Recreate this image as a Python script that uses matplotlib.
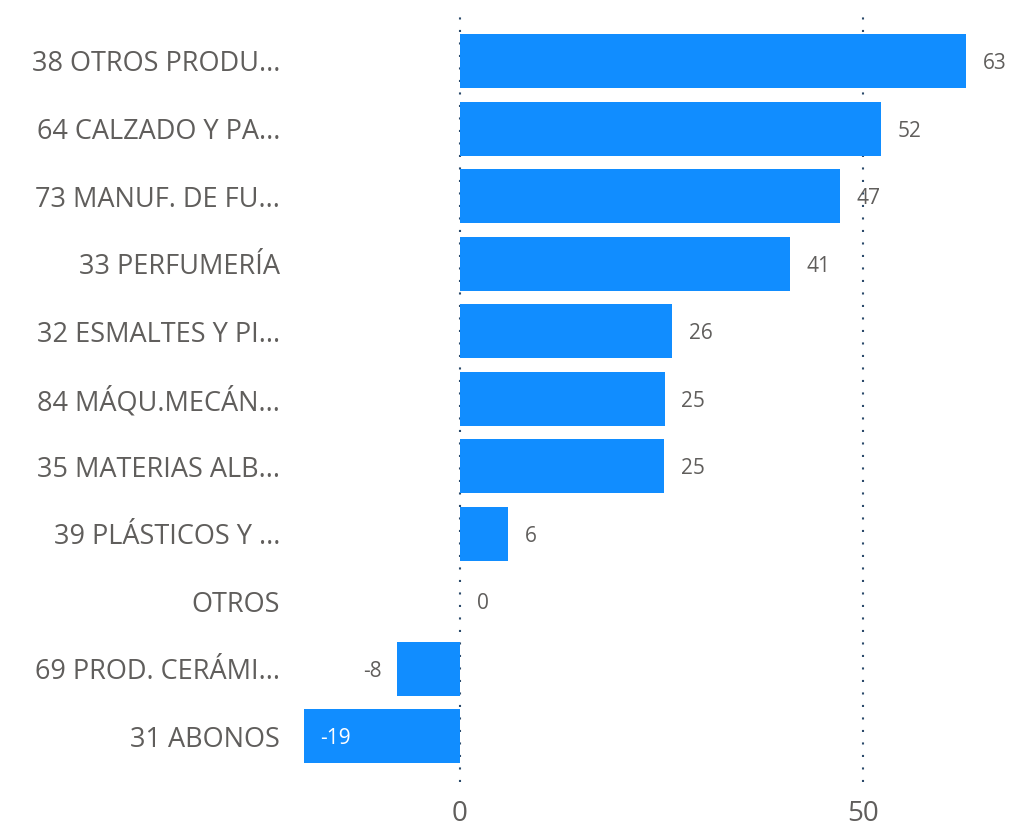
import matplotlib.pyplot as plt
import numpy as np

categories = ['38 OTROS PRODU...', '64 CALZADO Y PA...', '73 MANUF. DE FU...',
              '33 PERFUMERÍA', '32 ESMALTES Y PI...', '84 MÁQU.MECÁN...',
              '35 MATERIAS ALB...', '39 PLÁSTICOS Y ...', 'OTROS',
              '69 PROD. CERÁMI...', '31 ABONOS']
values = [62.8, 52.2, 47.1, 40.9, 26.3, 25.4, 25.3, 6.0, 0.0, -7.8, -19.3]
value_labels = ['63', '52', '47', '41', '26', '25', '25', '6', '0', '-8', '-19']
xticks = [0, 50]

plt.rcParams['font.family'] = ['Open Sans', 'DejaVu Sans']
bar_color = '#118DFF'
text_color = '#605E5C'

fig = plt.figure(figsize=(10.35, 8.31), dpi=100)
ax = fig.add_axes([291 / 1035, 49 / 831, 741 / 1035, 774 / 831])

y = np.arange(len(categories))
ax.barh(y, values, height=0.8, color=bar_color, zorder=2)

xmin, xmax = -20.97, 70.97
ax.set_xlim(xmin, xmax)
ax.set_ylim(10.68, -0.785)

# dotted gridlines behind the bars
for xv in xticks:
    ax.axvline(xv, color='#2b4a6b', linestyle=(0, (1, 5)), linewidth=1.5, zorder=1)

# value labels
vfs = 15
for yi, v, lab in zip(y, values, value_labels):
    if v >= 0:
        ax.annotate(lab, (v, yi), xytext=(12, -2), textcoords='offset points',
                    ha='left', va='center', fontsize=vfs, color=text_color)
    else:
        # outside label fits left of bar end?
        if v - 5 > xmin:
            ax.annotate(lab, (v, yi), xytext=(-11, -2), textcoords='offset points',
                        ha='right', va='center', fontsize=vfs, color=text_color)
        else:
            ax.annotate(lab, (v, yi), xytext=(11, -2), textcoords='offset points',
                        ha='left', va='center', fontsize=vfs, color='white')

ax.set_yticks(y)
ax.set_yticklabels(categories, fontsize=19.5, color=text_color)
ax.set_xticks(xticks)
ax.set_xticklabels([str(t) for t in xticks], fontsize=20, color=text_color)
ax.tick_params(axis='y', length=0, pad=8)
ax.tick_params(axis='x', length=0, pad=13)
for s in ax.spines.values():
    s.set_visible(False)

fig.savefig('out.png', dpi=100)
